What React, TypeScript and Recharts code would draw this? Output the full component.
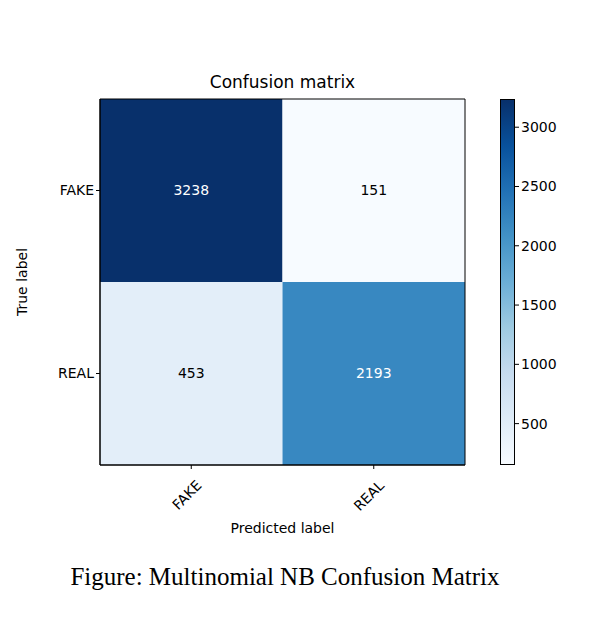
import { ComposedChart, XAxis, YAxis, ReferenceArea, Label } from "recharts";

const classes = ["FAKE", "REAL"];
// rows = true label, cols = predicted label
const counts = [
  [3238, 151],
  [453, 2193],
];
const colorbarTicks = [500, 1000, 1500, 2000, 2500, 3000];

const vmin = 151;
const vmax = 3238;

const blues = [
  "#f7fbff", "#deebf7", "#c6dbef", "#9ecae1", "#6baed6",
  "#4292c6", "#2171b5", "#08519c", "#08306b",
];

function hex(c: string) {
  return [1, 3, 5].map((i) => parseInt(c.slice(i, i + 2), 16));
}

function blueAt(t: number) {
  const s = Math.max(0, Math.min(1, t)) * (blues.length - 1);
  const i = Math.min(blues.length - 2, Math.floor(s));
  const f = s - i;
  const a = hex(blues[i]);
  const b = hex(blues[i + 1]);
  const m = a.map((v, k) => Math.round(v + (b[k] - v) * f));
  return `rgb(${m[0]},${m[1]},${m[2]})`;
}

const font = "DejaVu Sans, sans-serif";
const tickStyle = { fontSize: 14, fill: "#000", fontFamily: font };

function RotTick({ x, y, payload }: any) {
  return (
    <text
      x={x + 4}
      y={y + 8}
      transform={`rotate(-45 ${x + 4} ${y + 8})`}
      textAnchor="end"
      dominantBaseline="hanging"
      {...tickStyle}
    >
      {classes[payload.value]}
    </text>
  );
}

export default function App() {
  const cells = counts.flatMap((row, i) =>
    row.map((v, j) => ({ i, j, v, t: (v - vmin) / (vmax - vmin) }))
  );
  const gradient = `linear-gradient(to top, ${blues.join(", ")})`;
  return (
    <div style={{ position: "relative", width: 590, height: 624, margin: -8, background: "#fff", fontFamily: font }}>
      <div style={{ position: "absolute", left: 100, top: 72, width: 365, textAlign: "center", fontSize: 17 }}>
        Confusion matrix
      </div>
      <div style={{ position: "absolute", left: 0, top: 0 }}>
        <ComposedChart width={480} height={540} margin={{ top: 99, right: 15, bottom: 15, left: 0 }}>
          <XAxis
            type="number"
            dataKey="x"
            domain={[-0.5, 1.5]}
            ticks={[0, 1]}
            tick={<RotTick />}
            tickLine={{ stroke: "#000" }}
            tickSize={4}
            axisLine={{ stroke: "#000" }}
            height={60}
            allowDataOverflow
          >
            <Label value="Predicted label" position="insideBottom" offset={-8} style={{ ...tickStyle }} />
          </XAxis>
          <YAxis
            type="number"
            dataKey="y"
            domain={[-0.5, 1.5]}
            reversed
            ticks={[0, 1]}
            tickFormatter={(v: number) => classes[v]}
            tick={tickStyle}
            tickLine={{ stroke: "#000" }}
            tickSize={4}
            axisLine={{ stroke: "#000" }}
            width={100}
            allowDataOverflow
          >
            <Label value="True label" angle={-90} position="insideLeft" offset={22} style={{ ...tickStyle, textAnchor: "middle" }} />
          </YAxis>
          {cells.map((c) => (
            <ReferenceArea
              key={`${c.i}-${c.j}`}
              x1={c.j - 0.5}
              x2={c.j + 0.5}
              y1={c.i - 0.5}
              y2={c.i + 0.5}
              fill={blueAt(c.t)}
              fillOpacity={1}
              stroke="none"
              ifOverflow="visible"
            >
              <Label value={String(c.v)} position="center" style={{ ...tickStyle, fill: c.t > 0.5 ? "#fff" : "#000" }} />
            </ReferenceArea>
          ))}
          <ReferenceArea x1={-0.5} x2={1.5} y1={-0.5} y2={1.5} fill="none" stroke="#000" strokeWidth={1} ifOverflow="visible" />
        </ComposedChart>
      </div>
      <div style={{ position: "absolute", left: 500, top: 99, width: 15, height: 366, background: gradient, boxSizing: "border-box", border: "1px solid #000" }} />
      <div style={{ position: "absolute", left: 500, top: 0 }}>
        <ComposedChart width={80} height={480} margin={{ top: 99, right: 0, bottom: 15, left: 0 }}>
          <XAxis type="number" dataKey="x" domain={[0, 1]} hide height={0} />
          <YAxis
            type="number"
            dataKey="y"
            orientation="right"
            domain={[vmin, vmax]}
            ticks={colorbarTicks}
            tick={tickStyle}
            tickLine={{ stroke: "#000" }}
            tickSize={4}
            axisLine={false}
            width={65}
            allowDataOverflow
          />
        </ComposedChart>
      </div>
      <div style={{ position: "absolute", left: 0, top: 563, width: 570, textAlign: "center", fontFamily: "Liberation Serif, serif", fontSize: 25 }}>
        Figure: Multinomial NB Confusion Matrix
      </div>
    </div>
  );
}
